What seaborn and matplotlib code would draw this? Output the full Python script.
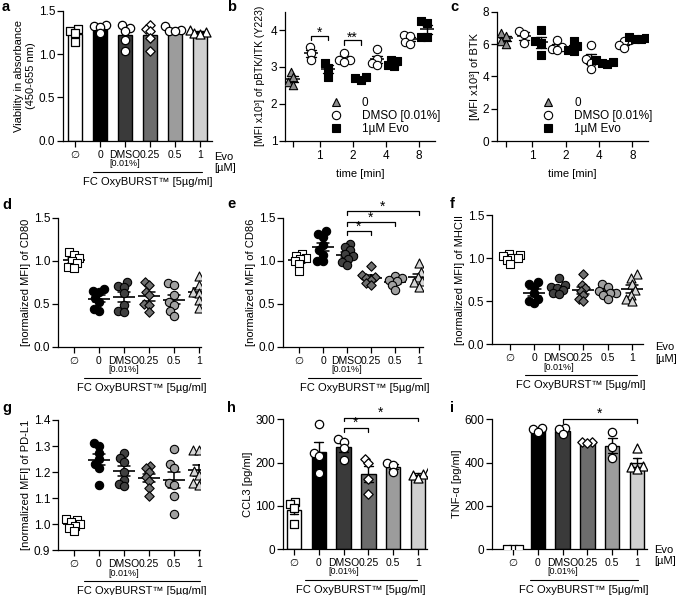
import numpy as np
import pandas as pd
import matplotlib
matplotlib.use('Agg')
import matplotlib.pyplot as plt
import seaborn as sns
from matplotlib.lines import Line2D
from matplotlib.transforms import offset_copy

sns.set_theme(style='ticks')
plt.rcParams['font.family'] = ['Liberation Sans', 'DejaVu Sans']
plt.rcParams['axes.linewidth'] = 0.9
plt.rcParams['text.color'] = 'black'
plt.rcParams['axes.labelcolor'] = 'black'
plt.rcParams['xtick.color'] = 'black'
plt.rcParams['ytick.color'] = 'black'
plt.rcParams['axes.edgecolor'] = 'black'

# conditions (x axis of the dose panels)
conds = ['∅', '0', 'DMSO', '0.25', '0.5', '1']
bar_colors = ['white', 'black', '#3a3a3a', '#6c6c6c', '#9c9c9c', '#d0d0d0']
dot_colors = ['white', 'black', '#404040', '#707070', '#a0a0a0', '#d6d6d6']
cond_markers = ['s', 'o', 'o', 'D', 'o', '^']
cond_sizes = [5.5, 6, 6, 4.8, 6, 6.5]

# a - viability
viability = [
    [1.29, 1.27, 1.24, 1.14],
    [1.33, 1.32, 1.31, 1.24],
    [1.33, 1.30, 1.27, 1.16, 1.03],
    [1.33, 1.29, 1.26, 1.18, 1.04],
    [1.32, 1.28, 1.27, 1.26],
    [1.28, 1.25, 1.24, 1.23],
]

# b, c - time course
time_ticks = [0, 0.8, 1.8, 2.8, 3.8]
time_labels = ['', '1', '2', '4', '8']
pbtk_zero = [2.86, 2.72, 2.58, 2.52]
pbtk_dmso = [[3.53, 3.38, 3.2], [3.39, 3.2, 3.2, 3.13], [3.48, 3.22, 3.1, 3.05], [3.87, 3.83, 3.68, 3.63]]
pbtk_evo = [[3.11, 2.97, 2.73], [2.72, 2.69, 2.66], [3.18, 3.15, 3.05, 3.02], [4.24, 4.2, 3.82, 3.81]]
btk_zero = [6.7, 6.5, 6.2, 6.0]
btk_dmso = [[6.8, 6.65, 6.05], [6.25, 5.8, 5.7, 5.6], [5.93, 5.1, 4.85, 4.45], [6.25, 6.2, 5.95, 5.75]]
btk_evo = [[6.85, 6.2, 6.05, 5.3], [6.2, 5.85, 5.65, 5.55], [5.0, 4.9, 4.85, 4.75], [6.45, 6.4, 6.3, 6.3]]

# d-g - surface markers
cd80 = [
    [1.10, 1.07, 1.03, 1.00, 0.97, 0.93, 0.92],
    [0.67, 0.65, 0.64, 0.57, 0.52, 0.44, 0.41],
    [0.75, 0.71, 0.69, 0.62, 0.48, 0.41, 0.40],
    [0.75, 0.72, 0.64, 0.60, 0.50, 0.48, 0.40],
    [0.74, 0.72, 0.60, 0.52, 0.48, 0.41, 0.36],
    [0.82, 0.72, 0.64, 0.62, 0.54, 0.45],
]
cd86 = [
    [1.08, 1.06, 1.03, 1.02, 1.00, 0.96, 0.88],
    [1.34, 1.31, 1.28, 1.18, 1.12, 1.07, 1.00, 1.00],
    [1.20, 1.16, 1.12, 1.08, 1.05, 1.02, 0.99, 0.95],
    [0.94, 0.83, 0.81, 0.80, 0.78, 0.74, 0.72],
    [0.82, 0.80, 0.77, 0.76, 0.72, 0.66],
    [0.97, 0.87, 0.81, 0.78, 0.76, 0.75, 0.70],
]
mhcii = [
    [1.05, 1.04, 1.02, 1.00, 1.00, 0.98, 0.93],
    [0.72, 0.70, 0.67, 0.60, 0.53, 0.50, 0.48],
    [0.77, 0.69, 0.67, 0.65, 0.63, 0.60, 0.58],
    [0.82, 0.69, 0.65, 0.62, 0.57, 0.53, 0.50],
    [0.70, 0.67, 0.62, 0.60, 0.59, 0.57, 0.53],
    [0.81, 0.77, 0.70, 0.63, 0.57, 0.53, 0.50],
]
pdl1 = [
    [1.02, 1.015, 1.01, 1.00, 0.995, 0.985, 0.975],
    [1.31, 1.30, 1.275, 1.25, 1.23, 1.215, 1.15],
    [1.275, 1.255, 1.24, 1.20, 1.17, 1.155, 1.145],
    [1.225, 1.215, 1.20, 1.18, 1.165, 1.14, 1.11],
    [1.29, 1.23, 1.215, 1.16, 1.15, 1.11, 1.04],
    [1.285, 1.285, 1.205, 1.19, 1.17, 1.16, 1.15],
]

# h, i - cytokines
ccl3 = [
    [108, 104, 95, 58],
    [288, 222, 215, 175],
    [254, 248, 234, 206],
    [208, 200, 162, 127],
    [198, 195, 178],
    [178, 174, 172, 164],
]
tnfa = [
    [0, 0, 0],
    [560, 556, 540],
    [559, 554, 531],
    [497, 493, 490],
    [542, 470, 422],
    [467, 385, 378, 370],
]

W, H = 676, 595
fig = plt.figure(figsize=(W / 100, H / 100), dpi=100)

# swarms are laid out with small markers, then enlarged so they overlap a bit
SHRINK = 0.55
swarms = []


def swarm(ax, size, **kws):
    n0 = len(ax.collections)
    sns.swarmplot(size=size * SHRINK, ax=ax, **kws)
    for coll in ax.collections[n0:]:
        swarms.append((coll, size))


def add_ax(left, top, right, bottom):
    return fig.add_axes([left / W, 1 - bottom / H, (right - left) / W, (bottom - top) / H])


def long_df(groups):
    return pd.DataFrame({
        'cond': [c for c, g in zip(conds, groups) for _ in g],
        'val': [v for g in groups for v in g],
    })


def style(ax, xlim, ylim, yticks, fmt, ylabel, xsize=7.5):
    ax.set_xlim(xlim)
    ax.set_ylim(ylim)
    ax.set_yticks(yticks)
    ax.set_yticklabels([fmt.format(t) for t in yticks])
    ax.set_ylabel(ylabel, fontsize=8, labelpad=2)
    ax.set_xlabel('')
    sns.despine(ax=ax)
    ax.tick_params(length=4, width=0.9, labelsize=8.5, pad=1.5)
    ax.tick_params(axis='x', labelsize=xsize, pad=2.5)


def cond_axis(ax, x0=0.5, x1=5.05):
    ax.set_xticks(range(len(conds)))
    ax.set_xticklabels(conds)
    trans = ax.get_xaxis_transform()
    ax.annotate('[0.01%]', xy=(2, 0), xycoords=trans, xytext=(0, -23),
                textcoords='offset pixels', ha='center', va='center', fontsize=6.5)
    line_tr = offset_copy(trans, fig=fig, y=-31, units='dots')
    ax.plot([x0, x1], [0, 0], transform=line_tr, color='black', lw=0.8, clip_on=False)
    ax.annotate('FC OxyBURST™ [5µg/ml]', xy=((x0 + x1) / 2, 0), xycoords=trans,
                xytext=(0, -41), textcoords='offset pixels', ha='center', va='center',
                fontsize=8)


def bracket(ax, x0, x1, y, leg, label, ty):
    ax.plot([x0, x0, x1, x1], [y - leg, y, y, y - leg], color='black', lw=0.9, clip_on=False)
    ax.text((x0 + x1) / 2, ty, label, ha='center', va='center', fontsize=10, clip_on=False)


def bar_panel(ax, groups):
    df = long_df(groups)
    sns.barplot(data=df, x='cond', y='val', order=conds, hue='cond', hue_order=conds,
                palette=bar_colors, legend=False, errorbar='se', capsize=0.35,
                err_kws={'color': 'black', 'linewidth': 1}, edgecolor='black',
                linewidth=1, width=0.58, ax=ax)
    for c, m, s in zip(conds, cond_markers, cond_sizes):
        swarm(ax, s, data=df[df.cond == c], x='cond', y='val', order=conds, marker=m,
              color='white', edgecolor='black', linewidth=0.9)


def dot_panel(ax, groups):
    df = long_df(groups)
    for c, m, col, s in zip(conds, cond_markers, dot_colors, cond_sizes):
        swarm(ax, s, data=df[df.cond == c], x='cond', y='val', order=conds, marker=m,
              color=col, edgecolor='black', linewidth=0.8)
    sns.pointplot(data=df, x='cond', y='val', order=conds, errorbar='se', color='black',
                  markers='_', markersize=16, markeredgewidth=1.2, linestyle='none',
                  capsize=0.5, err_kws={'linewidth': 1.1}, ax=ax)


def time_panel(ax, zero, dmso, evo):
    frames = [pd.DataFrame({'pos': time_ticks[0], 'val': zero, 'grp': '0'})]
    for t, d, e in zip(time_ticks[1:], dmso, evo):
        frames.append(pd.DataFrame({'pos': t - 0.25, 'val': d, 'grp': 'DMSO'}))
        frames.append(pd.DataFrame({'pos': t + 0.25, 'val': e, 'grp': 'Evo'}))
    df = pd.concat(frames, ignore_index=True)
    for g, m, fc in [('0', '^', '#8c8c8c'), ('DMSO', 'o', 'white'), ('Evo', 's', 'black')]:
        swarm(ax, 6, data=df[df.grp == g], x='pos', y='val', native_scale=True, orient='x',
              marker=m, color=fc, edgecolor='black', linewidth=0.8)
    sns.pointplot(data=df, x='pos', y='val', native_scale=True, orient='x', errorbar='se',
                  color='black', markers='_', markersize=10, markeredgewidth=1.1,
                  linestyle='none', capsize=0.6, err_kws={'linewidth': 1}, ax=ax)
    handles = [
        Line2D([], [], ls='none', marker='^', markerfacecolor='#8c8c8c', markeredgecolor='black', markersize=6, mew=0.8),
        Line2D([], [], ls='none', marker='o', markerfacecolor='white', markeredgecolor='black', markersize=6, mew=0.8),
        Line2D([], [], ls='none', marker='s', markerfacecolor='black', markeredgecolor='black', markersize=6, mew=0.8),
    ]
    ax.legend(handles, ['0', 'DMSO [0.01%]', '1µM Evo'], loc='upper left',
              bbox_to_anchor=(0.30, 0.34), frameon=False, fontsize=8.5, handlelength=1.0,
              handletextpad=1.7, labelspacing=0.1, borderpad=0, borderaxespad=0)


def time_axis(ax):
    ax.set_xticks(time_ticks)
    ax.set_xticklabels(time_labels)
    ax.set_xlabel('time [min]', fontsize=8, labelpad=5)


# a
ax = add_ax(63, 10.7, 212.5, 140.7)
bar_panel(ax, viability)
style(ax, (-0.48, 5.5), (0, 1.5), [0, 0.5, 1.0, 1.5], '{:.1f}',
      'Viability in absorbance\n(450-655 nm)')
cond_axis(ax, 0.72, 5.08)

# b
ax = add_ax(285, 11.7, 435, 140.7)
time_panel(ax, pbtk_zero, pbtk_dmso, pbtk_evo)
style(ax, (-0.25, 4.3), (1, 4.5), [1, 2, 3, 4], '{:.0f}', '', xsize=8.5)
time_axis(ax)
ax.set_ylabel('[MFI x10³] of pBTK/ITK (Y223)', fontsize=7.5, labelpad=4)
bracket(ax, 0.55, 1.05, 3.83, 0.11, '*', 3.93)
bracket(ax, 1.55, 2.05, 3.72, 0.11, '**', 3.80)

# c
ax = add_ax(497, 11.7, 648, 141)
time_panel(ax, btk_zero, btk_dmso, btk_evo)
style(ax, (-0.26, 4.27), (0, 8), [0, 2, 4, 6, 8], '{:.0f}', '[MFI x10³] of BTK', xsize=8.5)
time_axis(ax)

# d
ax = add_ax(57.7, 217.7, 201, 346.7)
dot_panel(ax, cd80)
style(ax, (-0.65, 5.08), (0, 1.5), [0, 0.5, 1.0, 1.5], '{:.1f}', '[normalized MFI] of CD80')
cond_axis(ax, 0.4, 5.04)

# e
ax = add_ax(283, 217.7, 423, 346.7)
dot_panel(ax, cd86)
style(ax, (-0.67, 5.17), (0, 1.5), [0, 0.5, 1.0, 1.5], '{:.1f}', '[normalized MFI] of CD86')
cond_axis(ax, 0.38, 5.1)
bracket(ax, 2, 3, 1.345, 0.045, '*', 1.39)
bracket(ax, 2, 4, 1.453, 0.045, '*', 1.50)
bracket(ax, 2, 5, 1.578, 0.045, '*', 1.625)

# f
ax = add_ax(492, 215, 643, 344.3)
dot_panel(ax, mhcii)
style(ax, (-0.74, 5.45), (0, 1.5), [0, 0.5, 1.0, 1.5], '{:.1f}', '[normalized MFI] of MHCII')
cond_axis(ax, 0.6, 5.2)

# g
ax = add_ax(57.7, 420, 200, 550.3)
dot_panel(ax, pdl1)
style(ax, (-0.65, 5.04), (0.9, 1.4), [0.9, 1.0, 1.1, 1.2, 1.3, 1.4], '{:.1f}',
      '[normalized MFI] of PD-L1')
cond_axis(ax, 0.4, 5.04)

# h
ax = add_ax(283, 419.3, 427, 549)
bar_panel(ax, ccl3)
style(ax, (-0.44, 5.36), (0, 300), [0, 100, 200, 300], '{:.0f}', 'CCL3 [pg/ml]')
cond_axis(ax, 0.44, 4.95)
bracket(ax, 2, 3, 279, 9, '*', 291)
bracket(ax, 2, 5, 304, 9, '*', 316)

# i
ax = add_ax(492, 419.3, 647, 549)
bar_panel(ax, tnfa)
style(ax, (-0.85, 5.4), (0, 600), [0, 200, 400, 600], '{:.0f}', 'TNF-α [pg/ml]')
cond_axis(ax, 0.68, 5.04)
bracket(ax, 2, 5, 602, 20, '*', 625)

# Evo [µM] labels
for x, y1, y2 in [(214, 157, 168), (655, 347, 359), (654, 550, 561)]:
    fig.text(x / W, 1 - y1 / H, 'Evo', fontsize=8, ha='left', va='center')
    fig.text(x / W, 1 - y2 / H, '[µM]', fontsize=8, ha='left', va='center')

# panel letters
for letter, x, y in [('a', 2, 7), ('b', 227, 7), ('c', 450, 7),
                     ('d', 2, 205), ('e', 227, 204), ('f', 450, 204),
                     ('g', 2, 408), ('h', 227, 408), ('i', 450, 408)]:
    fig.text(x / W, 1 - y / H, letter, fontsize=10.5, fontweight='bold', ha='left', va='center')

# lay out the swarms once, then freeze them and show the full marker size
fig.canvas.draw()
for coll, size in swarms:
    coll.__dict__.pop('draw', None)
    coll.set_sizes([size ** 2])

fig.savefig('out.png', dpi=100)
